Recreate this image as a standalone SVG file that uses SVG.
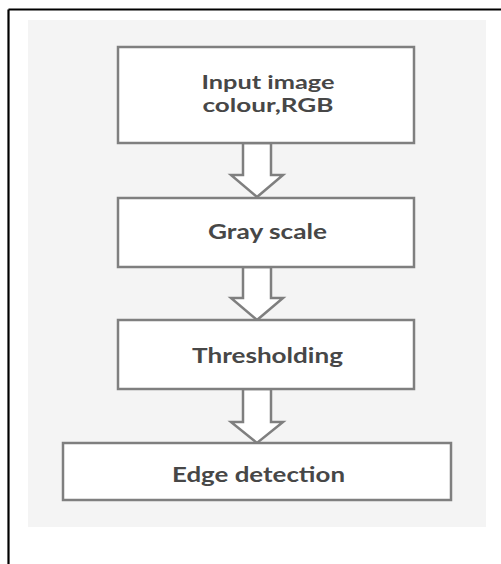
<svg xmlns="http://www.w3.org/2000/svg" width="501" height="564" viewBox="0 0 501 564">
  <style>
    .box { fill: #ffffff; stroke: #7f7f7f; stroke-width: 2.5; }
    .arrow { fill: #ffffff; stroke: #7f7f7f; stroke-width: 2.5; stroke-linejoin: miter; }
    .label { font-family: Lato, "Open Sans", sans-serif; font-weight: 700; font-size: 21px; fill: #474747; text-anchor: middle; }
    .label.two { font-size: 19.5px; }
  </style>
  <rect width="501" height="564" fill="#ffffff"/>
  <!-- frame edges -->
  <line x1="8.5" y1="9.5" x2="501" y2="9.5" stroke="#000000" stroke-width="2.2"/>
  <line x1="8.5" y1="9.5" x2="8.5" y2="564" stroke="#000000" stroke-width="2.2"/>
  <!-- panel -->
  <rect x="28" y="20" width="458" height="507" fill="#f4f4f4"/>

  <g id="connectors">
    <polygon class="arrow" points="243,143 271,143 271,175 283,175 257,197 231,175 243,175"/>
    <polygon class="arrow" points="243,267 271,267 271,298 283,298 257,320 231,298 243,298"/>
    <polygon class="arrow" points="243,389 271,389 271,422 283,422 257,443 231,422 243,422"/>
  </g>

  <g id="node-input">
    <rect class="box" x="118" y="47" width="296" height="96"/>
    <text class="label two" x="268" y="88.5" textLength="133" lengthAdjust="spacingAndGlyphs">Input image</text>
    <text class="label two" x="268" y="112" textLength="131" lengthAdjust="spacingAndGlyphs">colour,RGB</text>
  </g>
  <g id="node-gray">
    <rect class="box" x="118" y="198" width="296" height="69"/>
    <text class="label" x="267.5" y="239" textLength="119" lengthAdjust="spacingAndGlyphs">Gray scale</text>
  </g>
  <g id="node-threshold">
    <rect class="box" x="118" y="320" width="296" height="69"/>
    <text class="label" x="267.5" y="363" textLength="151" lengthAdjust="spacingAndGlyphs">Thresholding</text>
  </g>
  <g id="node-edge">
    <rect class="box" x="63" y="443" width="388" height="57"/>
    <text class="label" x="258.5" y="482" textLength="173" lengthAdjust="spacingAndGlyphs">Edge detection</text>
  </g>
</svg>
